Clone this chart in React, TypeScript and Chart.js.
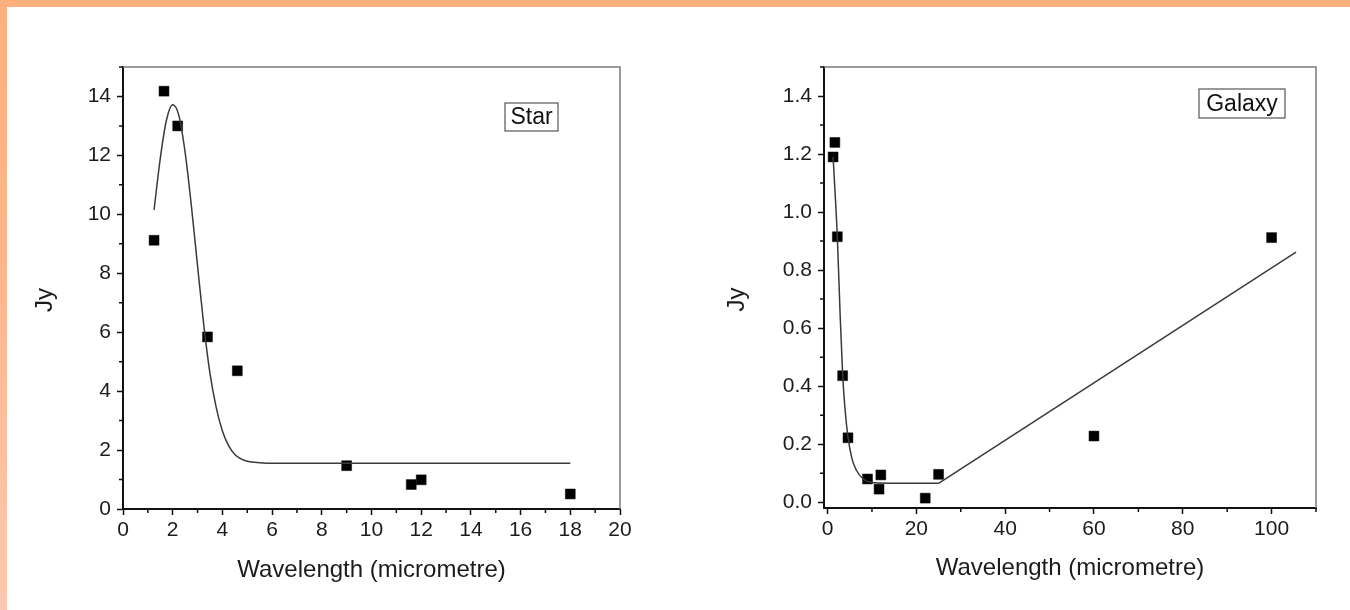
import React, { useEffect, useRef } from 'react';
import { Chart, registerables } from 'chart.js';

Chart.register(...registerables);

const FONT = "'Liberation Sans', Arial, Helvetica, sans-serif";

// ---- Star data ----
const starWavelength = [1.25, 1.65, 2.2, 3.4, 4.6, 9, 11.6, 12, 18];
const starFlux = [9.12, 14.18, 13.0, 5.84, 4.69, 1.47, 0.83, 0.99, 0.51];
const starFitWavelength = [1.25, 1.5, 1.75, 2.0, 2.25, 2.5, 2.75, 3.0, 3.25, 3.5, 3.75, 4.0, 4.25, 4.5, 4.75, 5.0, 5.5, 6.0, 8, 10, 12, 14, 16, 18];
const starFitFlux = [10.15, 11.9, 13.2, 13.72, 13.35, 12.1, 10.3, 8.25, 6.25, 4.6, 3.45, 2.65, 2.15, 1.85, 1.7, 1.62, 1.57, 1.55, 1.55, 1.55, 1.55, 1.55, 1.55, 1.55];
const starXTicks = [0, 2, 4, 6, 8, 10, 12, 14, 16, 18, 20];
const starXMinor = [1, 3, 5, 7, 9, 11, 13, 15, 17, 19];
const starYTicks = [0, 2, 4, 6, 8, 10, 12, 14];
const starYMinor = [1, 3, 5, 7, 9, 11, 13, 15];

// ---- Galaxy data ----
const galaxyWavelength = [1.25, 1.65, 2.2, 3.4, 4.6, 9, 11.6, 12, 22, 25, 60, 100];
const galaxyFlux = [1.19, 1.24, 0.915, 0.436, 0.222, 0.08, 0.045, 0.094, 0.014, 0.096, 0.228, 0.912];
const galaxyFitWavelength = [1.25, 1.65, 2.2, 2.8, 3.4, 4.0, 4.6, 5.5, 6.5, 8, 10, 12, 15, 20, 25];
const galaxyFitFlux = [1.19, 1.08, 0.915, 0.66, 0.44, 0.31, 0.225, 0.15, 0.11, 0.08, 0.068, 0.066, 0.065, 0.065, 0.065];
const galaxyLineWavelength = [25, 105.5];
const galaxyLineFlux = [0.065, 0.862];
const galaxyXTicks = [0, 20, 40, 60, 80, 100];
const galaxyXMinor = [10, 30, 50, 70, 90, 110];
const galaxyYTicks = [0, 0.2, 0.4, 0.6, 0.8, 1.0, 1.2, 1.4];
const galaxyYMinor = [0.1, 0.3, 0.5, 0.7, 0.9, 1.1, 1.3, 1.5];

const toXY = (xs: number[], ys: number[]) => xs.map((x, i) => ({ x, y: ys[i] }));

const decorPlugin = {
  id: 'decor',
  afterDraw(chart: any, _args: any, opts: any) {
    const { ctx, chartArea: a, scales } = chart;
    const sx = scales.x;
    const sy = scales.y;
    ctx.save();
    // top & right frame
    ctx.strokeStyle = '#7b7b7b';
    ctx.lineWidth = 1.5;
    ctx.beginPath();
    ctx.moveTo(a.left, a.top);
    ctx.lineTo(a.right, a.top);
    ctx.lineTo(a.right, a.bottom);
    ctx.stroke();
    // minor ticks
    ctx.strokeStyle = '#111';
    ctx.lineWidth = 1.5;
    ctx.beginPath();
    opts.xMinor.forEach((v: number) => {
      const px = sx.getPixelForValue(v);
      ctx.moveTo(px, a.bottom);
      ctx.lineTo(px, a.bottom + 4);
    });
    opts.yMinor.forEach((v: number) => {
      const py = sy.getPixelForValue(v);
      ctx.moveTo(a.left, py);
      ctx.lineTo(a.left - 4, py);
    });
    ctx.stroke();
    // axis titles
    ctx.fillStyle = '#1c1c1c';
    ctx.font = `24px ${FONT}`;
    ctx.textAlign = 'center';
    ctx.textBaseline = 'middle';
    ctx.fillText(opts.xTitle, (a.left + a.right) / 2, a.bottom + opts.xTitleOffset);
    ctx.save();
    ctx.translate(a.left - opts.yTitleOffset, (a.top + a.bottom) / 2 + 12);
    ctx.rotate(-Math.PI / 2);
    ctx.fillText(opts.yTitle, 0, 0);
    ctx.restore();
    // label box
    const b = opts.box;
    ctx.strokeStyle = '#555';
    ctx.lineWidth = 1.2;
    ctx.strokeRect(a.left + b.left, a.top + b.top, b.width, b.height);
    ctx.fillStyle = '#111';
    ctx.font = `23px ${FONT}`;
    ctx.fillText(b.text, a.left + b.left + b.width / 2, a.top + b.top + b.height / 2 + 1);
    ctx.restore();
  },
};

function makeAxis(min: number, max: number, major: number[], fmt: (v: number) => string, fit: (s: any) => void, pad: number) {
  return {
    type: 'linear',
    min,
    max,
    afterBuildTicks: (s: any) => {
      s.ticks = major.map((v) => ({ value: v }));
    },
    afterFit: fit,
    ticks: {
      callback: (v: any) => fmt(Number(v)),
      font: { family: FONT, size: 21 },
      color: '#1c1c1c',
      padding: pad,
      maxRotation: 0,
      autoSkip: false,
    },
    grid: {
      display: true,
      drawOnChartArea: false,
      drawTicks: true,
      tickLength: 6,
      tickColor: '#111',
      tickWidth: 1.5,
    },
    border: { display: true, color: '#111', width: 2 },
  };
}

type PanelProps = {
  left: number;
  width: number;
  datasets: any[];
  xMin: number;
  xMax: number;
  yMin: number;
  yMax: number;
  xTicks: number[];
  yTicks: number[];
  xMinor: number[];
  yMinor: number[];
  yFmt: (v: number) => string;
  area: { left: number; right: number; top: number; bottom: number };
  yTitleOffset: number;
  xTitleOffset: number;
  box: { text: string; left: number; top: number; width: number; height: number };
};

function Panel(p: PanelProps) {
  const ref = useRef<HTMLCanvasElement | null>(null);
  useEffect(() => {
    if (!ref.current) return;
    const H = 610;
    const chart = new Chart(ref.current, {
      type: 'scatter',
      data: { datasets: p.datasets },
      plugins: [decorPlugin],
      options: {
        responsive: false,
        animation: false,
        layout: { padding: { left: 0, top: p.area.top, right: p.width - p.area.right, bottom: 0 } },
        plugins: {
          legend: { display: false },
          tooltip: { enabled: false },
          decor: {
            xMinor: p.xMinor,
            yMinor: p.yMinor,
            xTitle: 'Wavelength (micrometre)',
            yTitle: 'Jy',
            xTitleOffset: p.xTitleOffset,
            yTitleOffset: p.yTitleOffset,
            box: p.box,
          },
        } as any,
        scales: {
          x: makeAxis(p.xMin, p.xMax, p.xTicks, (v) => String(v), (s: any) => { s.height = H - p.area.bottom; }, 3),
          y: makeAxis(p.yMin, p.yMax, p.yTicks, p.yFmt, (s: any) => { s.width = p.area.left; }, 6),
        } as any,
      },
    } as any);
    return () => chart.destroy();
  }, []);
  return (
    <canvas
      ref={ref}
      width={p.width}
      height={610}
      style={{ position: 'absolute', left: p.left, top: 0, width: p.width, height: 610 }}
    />
  );
}

const pointStyle = {
  showLine: false,
  pointStyle: 'rect',
  pointRadius: 7,
  pointBackgroundColor: '#000',
  pointBorderColor: '#000',
  pointBorderWidth: 0.5,
};

const fitStyle = {
  showLine: true,
  pointRadius: 0,
  borderColor: '#3a3a3a',
  borderWidth: 1.5,
  fill: false,
};

export default function App() {
  const starSets = [
    { ...fitStyle, data: toXY(starFitWavelength, starFitFlux), cubicInterpolationMode: 'monotone' },
    { ...pointStyle, data: toXY(starWavelength, starFlux) },
  ];
  const galaxySets = [
    { ...fitStyle, data: toXY(galaxyFitWavelength, galaxyFitFlux), cubicInterpolationMode: 'monotone' },
    { ...fitStyle, data: toXY(galaxyLineWavelength, galaxyLineFlux), tension: 0 },
    { ...pointStyle, data: toXY(galaxyWavelength, galaxyFlux) },
  ];
  return (
    <div
      style={{
        position: 'absolute',
        left: 0,
        top: 0,
        width: 1350,
        height: 610,
        overflow: 'hidden',
        background: 'linear-gradient(to bottom, #fdb07c 0%, #fdb58a 40%, #fcc8b0 100%)',
      }}
    >
      <div style={{ position: 'absolute', left: 7, top: 7, width: 1343, height: 603, background: '#ffffff' }} />
      <Panel
        left={0}
        width={680}
        datasets={starSets}
        xMin={0}
        xMax={20}
        yMin={0}
        yMax={15}
        xTicks={starXTicks}
        yTicks={starYTicks}
        xMinor={starXMinor}
        yMinor={starYMinor}
        yFmt={(v) => String(v)}
        area={{ left: 123, right: 620, top: 67, bottom: 509 }}
        yTitleOffset={78}
        xTitleOffset={61}
        box={{ text: 'Star', left: 382, top: 36, width: 53, height: 28 }}
      />
      <Panel
        left={680}
        width={670}
        datasets={galaxySets}
        xMin={-0.8}
        xMax={110}
        yMin={-0.02}
        yMax={1.5}
        xTicks={galaxyXTicks}
        yTicks={galaxyYTicks}
        xMinor={galaxyXMinor}
        yMinor={galaxyYMinor}
        yFmt={(v) => v.toFixed(1)}
        area={{ left: 144, right: 636, top: 67, bottom: 508 }}
        yTitleOffset={87}
        xTitleOffset={60}
        box={{ text: 'Galaxy', left: 375, top: 22, width: 86, height: 29 }}
      />
    </div>
  );
}
